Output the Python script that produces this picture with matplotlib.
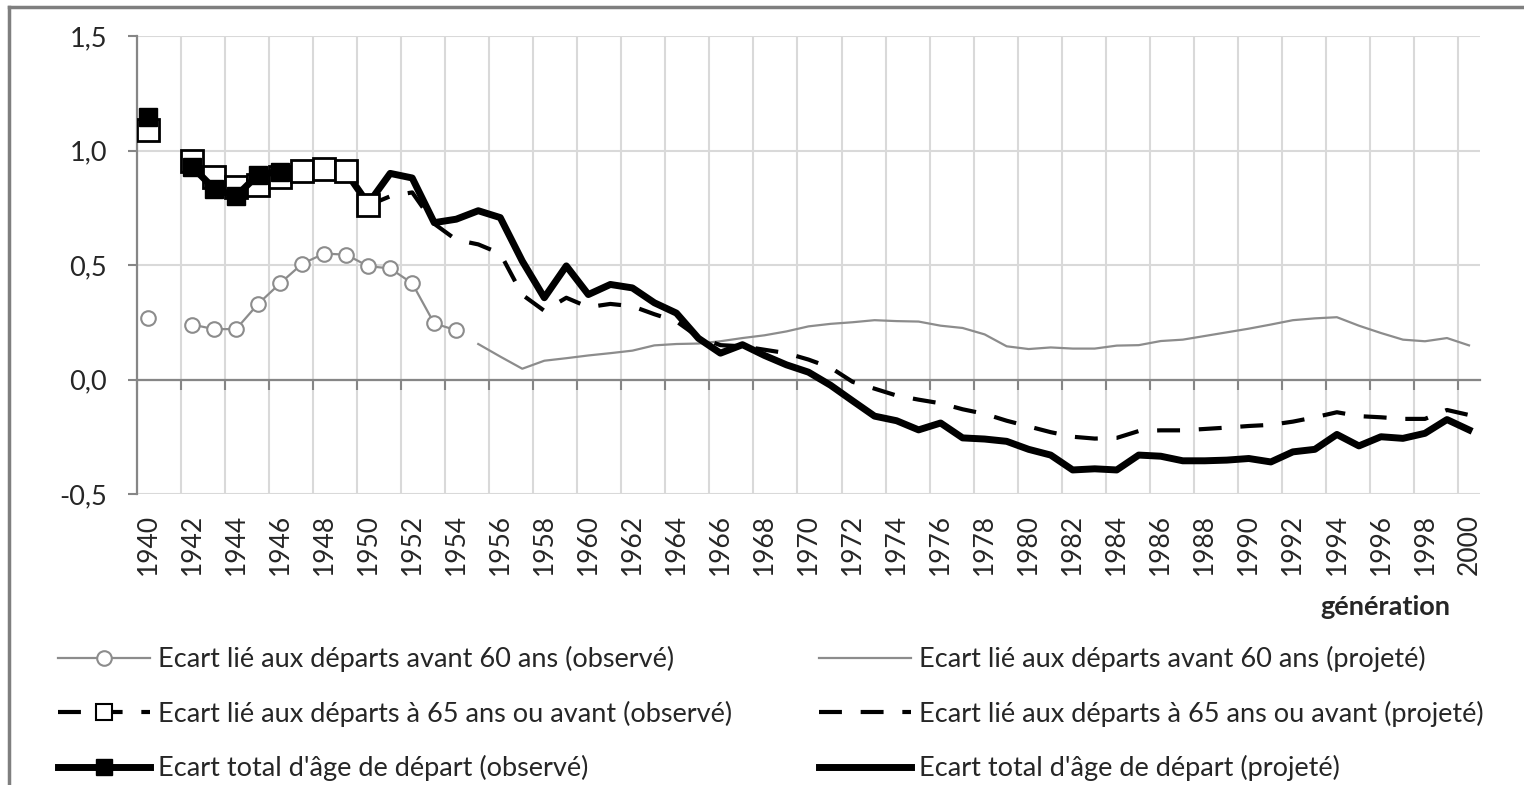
import matplotlib
matplotlib.use("Agg")
import matplotlib.pyplot as plt
from matplotlib.lines import Line2D
import numpy as np

nan = np.nan

# écart lié aux départs avant 60 ans
obs60_years = list(range(1940, 1955))
obs60 = [0.27, nan, 0.24, 0.22, 0.22, 0.33, 0.42, 0.505, 0.55, 0.545,
         0.495, 0.485, 0.42, 0.245, 0.215]
proj60_years = list(range(1955, 2001))
proj60 = [0.155, 0.10, 0.047, 0.082, 0.093, 0.105, 0.115, 0.126, 0.149, 0.155,
          0.157, 0.167, 0.181, 0.193, 0.21, 0.232, 0.243, 0.25, 0.259, 0.255,
          0.253, 0.235, 0.225, 0.197, 0.145, 0.133, 0.14, 0.135, 0.135, 0.148,
          0.15, 0.168, 0.174, 0.19, 0.206, 0.222, 0.24, 0.259, 0.267, 0.272,
          0.235, 0.203, 0.174, 0.167, 0.181, 0.149]

# écart lié aux départs à 65 ans ou avant
obs65_years = list(range(1940, 1951))
obs65 = [1.088, nan, 0.956, 0.883, 0.842, 0.85, 0.883, 0.912, 0.92, 0.912, 0.76]
proj65_years = list(range(1950, 2001))
proj65 = [0.76, 0.80, 0.817, 0.68, 0.61, 0.59, 0.55, 0.37, 0.30, 0.357,
          0.316, 0.33, 0.32, 0.285, 0.254, 0.185, 0.15, 0.145, 0.13, 0.115,
          0.087, 0.052, -0.01, -0.04, -0.07, -0.088, -0.104, -0.13, -0.15, -0.18,
          -0.205, -0.23, -0.25, -0.258, -0.255, -0.225, -0.222, -0.222, -0.216, -0.21,
          -0.203, -0.198, -0.184, -0.165, -0.143, -0.16, -0.165, -0.172, -0.172, -0.133,
          -0.155]

# écart total d'âge de départ
obstot_years = list(range(1940, 1947))
obstot = [1.145, nan, 0.93, 0.833, 0.80, 0.895, 0.908]
projtot_years = list(range(1946, 2001))
projtot = [0.908, 0.91, 0.92, 0.905, 0.767, 0.90, 0.88, 0.685, 0.70, 0.737,
           0.707, 0.517, 0.357, 0.496, 0.371, 0.415, 0.40, 0.335, 0.29, 0.18,
           0.115, 0.152, 0.105, 0.064, 0.032, -0.025, -0.093, -0.16, -0.18, -0.22,
           -0.19, -0.255, -0.26, -0.27, -0.305, -0.33, -0.395, -0.39, -0.395, -0.33,
           -0.335, -0.355, -0.355, -0.352, -0.345, -0.36, -0.316, -0.305, -0.24, -0.29,
           -0.25, -0.257, -0.235, -0.175, -0.22]

labels = [
    "Ecart lié aux départs avant 60 ans (observé)",
    "Ecart lié aux départs à 65 ans ou avant (observé)",
    "Ecart total d'âge de départ (observé)",
    "Ecart lié aux départs avant 60 ans (projeté)",
    "Ecart lié aux départs à 65 ans ou avant (projeté)",
    "Ecart total d'âge de départ (projeté)",
]

yticks = [-0.5, 0.0, 0.5, 1.0, 1.5]
xticks = list(range(1940, 2001, 2))

plt.rcParams['font.family'] = ['Lato', 'DejaVu Sans']
TXT = '#262626'
AX = '#868686'
GRID = '#d9d9d9'
GREY = '#8c8c8c'

fig = plt.figure(figsize=(15.24, 7.85), dpi=100)
ax = fig.add_axes([137 / 1524, 1 - 494 / 785, (1480 - 137) / 1524, (494 - 36) / 785])

dash = (5.5, 4.5)
ax.plot(proj60_years, proj60, color=GREY, lw=1.6, zorder=3)
ax.plot(obs60_years, obs60, color=GREY, lw=1.6, marker='o', ms=10.5,
        mfc='white', mec=GREY, mew=1.5, zorder=3)
ax.plot(projtot_years, projtot, color='black', lw=5, solid_joinstyle='round', zorder=4)
ax.plot(proj65_years, proj65, color='black', lw=3, dashes=dash, zorder=5)
ax.plot(obs65_years, obs65, color='black', lw=3, dashes=dash, marker='s', ms=16,
        mfc='white', mec='black', mew=2, zorder=6)
ax.plot(obstot_years, obstot, color='black', lw=5, marker='s', ms=12.5,
        mfc='black', mec='black', zorder=7)

ax.set_xlim(1939.5, 2000.5)
ax.set_ylim(-0.5, 1.5)
ax.set_yticks(yticks)
ax.set_yticklabels([f"{v:.1f}".replace('.', ',') for v in yticks])
ax.set_xticks(xticks)
ax.set_xticklabels([str(x) for x in xticks])
ax.set_xticks(np.arange(1939.5, 2000, 2), minor=True)

for s in ['top', 'right']:
    ax.spines[s].set_visible(False)
ax.spines['bottom'].set_position(('data', 0))
for s in ['left', 'bottom']:
    ax.spines[s].set_color(AX)
    ax.spines[s].set_linewidth(1.6)
    ax.spines[s].set_zorder(2.5)

ax.tick_params(axis='y', which='major', length=6.5, width=1.5, color=AX,
               pad=15, labelsize=19.5, labelcolor=TXT)
ax.tick_params(axis='x', which='major', length=0, pad=97, labelsize=19,
               labelcolor=TXT, labelrotation=90)
ax.tick_params(axis='x', which='minor', length=7, width=1.5, color=AX, direction='out')
ax.grid(axis='y', which='major', color=GRID, lw=1.5, zorder=0)
ax.grid(axis='x', which='minor', color=GRID, lw=1.5, zorder=0)
ax.set_axisbelow(True)

fig.text(1450 / 1524, 1 - 607 / 785, "génération", ha='right', va='center',
         fontsize=19.5, fontweight='bold', color=TXT)

handles = [
    Line2D([], [], color=GREY, lw=1.6, marker='o', ms=10.5, mfc='white', mec=GREY, mew=1.5),
    Line2D([], [], color='black', lw=3, dashes=dash, marker='s', ms=12, mfc='white', mec='black', mew=1.5),
    Line2D([], [], color='black', lw=5, marker='s', ms=11, mfc='black', mec='black'),
    Line2D([], [], color=GREY, lw=1.6),
    Line2D([], [], color='black', lw=3, dashes=dash),
    Line2D([], [], color='black', lw=5),
]
fig.legend(handles, labels, ncol=2, loc='upper left', bbox_to_anchor=(58 / 1524, 1 - 646 / 785),
           frameon=False, fontsize=19.5, handlelength=3.4, handletextpad=0.3,
           columnspacing=3.2, labelspacing=1.05, borderaxespad=0, borderpad=0,
           labelcolor=TXT)

# cadre du graphique
fig.add_artist(Line2D([9 / 1524, 9 / 1524], [0, 1 - 7 / 785], transform=fig.transFigure,
                      color='#7f7f7f', lw=2.5))
fig.add_artist(Line2D([9 / 1524, 1], [1 - 7 / 785, 1 - 7 / 785], transform=fig.transFigure,
                      color='#7f7f7f', lw=2.5))

fig.savefig("out.png", dpi=100)
